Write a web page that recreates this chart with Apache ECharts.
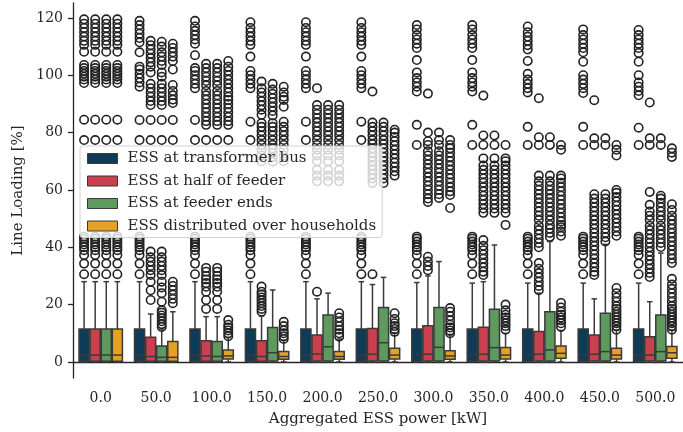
<!DOCTYPE html>
<html>
<head>
<meta charset="utf-8">
<script src="https://cdn.jsdelivr.net/npm/echarts@6/dist/echarts.min.js"></script>
<style>
  html, body { margin: 0; padding: 0; background: #fff; }
  #chart { width: 683px; height: 432px; }
</style>
</head>
<body>
<div id="chart"></div>
<script>
// categories on the x axis
const categories = ['0.0', '50.0', '100.0', '150.0', '200.0', '250.0', '300.0', '350.0', '400.0', '450.0', '500.0'];
const seriesNames = ['ESS at transformer bus', 'ESS at half of feeder', 'ESS at feeder ends', 'ESS distributed over households'];
const colors = ['#0e3b56', '#c9404f', '#5e9a5d', '#e5a126'];

// box stats per category: [low, q1, median, q3, high]
const busBox = [
  [0, 0.2, 2.4, 11.5, 28], [0, 0.2, 2.4, 11.5, 28], [0, 0.2, 2.4, 11.5, 28], [0, 0.2, 2.4, 11.5, 28],
  [0, 0.2, 2.4, 11.5, 28], [0, 0.2, 2.4, 11.5, 28], [0, 0.2, 2.4, 11.5, 27.7], [0, 0.2, 2.4, 11.5, 27.5],
  [0, 0.2, 2.4, 11.5, 27.5], [0, 0.2, 2.4, 11.5, 27.5], [0, 0.2, 2.4, 11.5, 27.5]
];
const halfBox = [
  [0, 0.2, 2.4, 11.5, 28], [0, 0.2, 1.9, 8.6, 16.7], [0, 0.2, 2.1, 7.4, 15.8], [0, 0.2, 1.9, 7.4, 16],
  [0, 0.3, 2.8, 9.4, 22], [0, 0.3, 2.7, 11.7, 27], [0, 0.3, 2.7, 12.6, 30], [0, 0.3, 2.7, 12.1, 28],
  [0, 0.3, 2.7, 10.6, 24], [0, 0.3, 2.7, 9.4, 22], [0, 0.3, 2.4, 8.8, 21]
];
const endsBox = [
  [0, 0.2, 2.4, 11.5, 28], [0, 0.2, 1.6, 5.6, 11.5], [0, 0.2, 1.9, 7.1, 15.8], [0, 0.3, 3.2, 12, 25.1],
  [0, 0.3, 5.3, 16.4, 24], [0, 0.3, 6.7, 19, 29.5], [0, 0.3, 5.1, 19, 35], [0, 0.3, 5, 18.4, 40.8],
  [0, 0.3, 4.2, 17.5, 42], [0, 0.3, 3.6, 17, 41], [0, 0.3, 3.6, 16.4, 38]
];
const distBox = [
  [0, 0.2, 2.4, 11.5, 28], [0, 0.2, 1.6, 7.1, 17.5], [0, 1, 2.1, 4.2, 8.5], [0, 0.9, 1.9, 3.6, 7.5],
  [0, 0.9, 1.9, 3.6, 8], [0, 1, 2.4, 4.8, 10], [0, 0.9, 2.1, 3.9, 9.4], [0, 1, 2.4, 5, 10],
  [0, 1.3, 3, 5.6, 11], [0, 1, 2.4, 4.8, 11], [0, 1.3, 3.2, 5.4, 11]
];

// outliers (fliers) per category
const busLow = [30.6, 34.3, 37.3, 39, 40, 41, 42, 43, 43.7];
const busOut = [
  busLow.concat([77.4, 84.5, 97.3, 98.5, 99.5, 100.5, 101.5, 102.5, 103.6, 108.2, 110.6, 112, 113.5, 115, 116.5, 118, 119.5]),
  busLow.concat([77.4, 84.4, 96, 97.5, 99, 100.5, 102, 103, 108, 111.5, 113, 114.5, 116, 117.5, 119]),
  busLow.concat([77.4, 84.4, 95.5, 97, 98.5, 100, 101.5, 102.5, 107, 111, 112.5, 114, 115.5, 117, 119]),
  busLow.concat([77.4, 83.8, 95.5, 97, 98.5, 100, 101.5, 106.5, 110.6, 112, 113.5, 115, 116.5, 118.5]),
  busLow.concat([77.4, 83.8, 95.5, 97, 98.5, 100, 101.5, 106.5, 110.6, 112, 113.5, 115, 116.5, 118.5]),
  busLow.concat([77.4, 83.8, 95.5, 97, 98.5, 100, 101.5, 106.5, 110.6, 112, 113.5, 115, 116.5, 118.5]),
  busLow.concat([75.7, 82.7, 94.3, 96, 97.5, 99, 101, 105.3, 109.5, 111, 112.5, 114, 116, 117.5]),
  busLow.concat([75.7, 82.7, 94.3, 96, 97.5, 99, 101, 105.3, 109.5, 111, 112.5, 114, 116, 117.5]),
  busLow.concat([75.7, 82, 94, 95.5, 97, 98.5, 100.5, 105, 109, 110.5, 112, 113.5, 115, 117]),
  busLow.concat([75.7, 82, 93.8, 95.5, 97, 98.5, 100, 104.7, 108, 109.5, 111, 112.5, 114, 116]),
  busLow.concat([75.7, 81.7, 93, 94.5, 96, 97.5, 100, 104.7, 107.8, 109.5, 111, 112.5, 114, 115.8])
];
const halfOut = [
  busOut[0],
  [21.6, 25, 28, 30.3, 32, 33.5, 35, 36.5, 38.5, 77.4, 84.4, 89.6, 91, 92.5, 94, 95.5, 97, 101, 103, 104.5, 106, 107.5, 109, 110.5, 112],
  [18.5, 21.6, 24.5, 26.2, 27.5, 28.8, 30, 31.5, 32.8, 77.4, 82.7, 84, 85.5, 87, 88.5, 90, 91.5, 93, 94.5, 96.5, 98, 99.5, 101, 102.5, 104],
  [17.5, 18.5, 19.5, 20.5, 21.5, 22.5, 23.5, 24.5, 26.3, 70, 72, 74, 75.7, 77.4, 79, 80.5, 82, 83.3, 86.2, 88, 89.5, 91, 92.5, 94, 95.5, 97.8],
  [24.5, 63, 65, 67, 70, 72, 74, 75.7, 77.4, 79, 80.5, 82, 83.5, 85, 86.5, 88, 89.6, 95.5],
  [30.6, 62.4, 64, 65.5, 67, 68.5, 70, 71.5, 73, 74.5, 76, 77.4, 79, 80.5, 82, 83.5, 94.3],
  [32, 33.5, 35, 36.7, 55.8, 57, 58.5, 60, 61.5, 63, 64.5, 66, 67.5, 69, 70.5, 72, 73.5, 75.7, 77, 80, 93.6],
  [30.3, 31.5, 33, 34.5, 36, 37.5, 39, 40.5, 42.5, 52, 53.5, 55, 56.5, 58, 59.5, 61, 62.5, 64, 65.5, 67, 68.5, 71, 75.7, 79, 92.9],
  [25, 26.5, 28, 29.5, 31, 32.5, 34.5, 40, 41.5, 43, 44.5, 46, 47.5, 49.5, 51, 52.5, 54, 55.5, 57, 58.5, 60, 61.5, 63, 65, 75.7, 78.4, 92],
  [30.3, 31.5, 33, 34.5, 36, 37.5, 39, 40.5, 42, 43.5, 45, 46.5, 48, 49.5, 51, 52.5, 54, 55.5, 57, 58.5, 75.7, 78, 91.3],
  [29.6, 31, 32.5, 34, 35.5, 37, 38.5, 40, 41.5, 43, 44.5, 46, 47.5, 49.5, 51, 52.5, 54.8, 59.3, 75.7, 78, 90.5]
];
const endsOut = [
  busOut[0],
  [12.2, 13.2, 14.2, 15.2, 16.2, 17.2, 18, 21, 24, 26, 28, 30.3, 32, 33.5, 35, 36.5, 38.5, 77.4, 84.4, 89.6, 91, 92.5, 94, 95.5, 97, 99.5, 101, 103.6, 105, 106.5, 108, 110, 111.7],
  [18.5, 21.6, 24.5, 26.2, 27.5, 28.8, 30, 31.5, 32.8, 77.4, 82.7, 84, 85.5, 87, 88.5, 90, 91.5, 93, 94.5, 96.5, 98, 99.5, 101, 102.5, 104],
  [69.8, 71.5, 73, 74.5, 75.7, 77.4, 79, 80.5, 82, 83.3, 86, 87.5, 89, 90.5, 92, 93.5, 95, 97],
  [63, 65, 67, 70, 72, 74, 75.7, 77.4, 79, 80.5, 82, 83.5, 85, 86.5, 88, 89.6],
  [62.4, 64, 65.5, 67, 68.5, 70, 71.5, 73, 74.5, 76, 77.4, 79, 80.5, 82, 83.5],
  [57.2, 58.5, 60, 61.5, 63, 64.5, 66, 67.5, 69, 70.5, 72, 73.5, 75.7, 77.4, 80],
  [52, 53.5, 55, 56.5, 58, 59.5, 61, 62.5, 64, 65.5, 67, 68.5, 71, 75.7, 79],
  [43.6, 45, 46.5, 47.8, 49.5, 51, 52.5, 54, 55.5, 57, 58.5, 60, 61.5, 63, 65, 75.7, 78.4],
  [42, 43.5, 45, 46.5, 48, 49.5, 51, 52.5, 54, 55.5, 57, 58.5, 75.7, 78],
  [40.1, 41.5, 43, 44.5, 46, 47.5, 49.5, 51, 52.5, 54, 55.5, 57, 58, 75.7, 78]
];
const distOut = [
  busOut[0],
  [20.5, 22, 23.5, 25, 26.5, 28, 77.4, 84.4, 90.3, 91.5, 93, 94.5, 96.6, 102, 105, 106.5, 108, 109.5, 111],
  [9, 10, 11, 12, 13, 14.6, 77.4, 82.7, 84, 85.5, 87, 88.5, 90, 91.4, 92.5, 94, 95.5, 97, 98.5, 100, 101.5, 103, 105],
  [8, 9, 10, 11, 12.5, 14, 70, 72, 74, 75.7, 77.4, 79, 80.5, 82, 83.8, 89, 91.4, 92.5, 94, 96],
  [8.8, 10, 11.2, 12.5, 14, 15.5, 17, 63, 65, 67, 70, 72, 74, 75.7, 77.4, 79, 80.5, 82, 83.5, 85, 86.5, 88, 89.6],
  [10.5, 11.5, 12.5, 13.5, 15, 17, 65, 66.5, 68, 69.5, 71, 72.5, 74, 75.5, 77, 78.5, 80, 81],
  [10, 11, 12, 13, 14.5, 16, 17.5, 18.8, 53.7, 58.2, 59.5, 61, 62.5, 64, 65.5, 67, 68.5, 70, 71.5, 73, 74.5, 75.7, 77.4],
  [11.2, 12.5, 13.5, 14.5, 15.5, 16.5, 18, 20, 47.8, 52, 53.5, 55, 56.5, 58, 59.5, 61, 62.5, 64, 65.5, 67, 68.5, 70, 71, 75.7],
  [12.2, 13.5, 14.5, 15.5, 16.5, 17.5, 19, 20.6, 44, 45.5, 47, 47.8, 49, 50.5, 52, 53.5, 55, 56.5, 58, 59.5, 61, 62.5, 64, 65, 74, 75.7],
  [11.2, 12.5, 13.5, 14.5, 15.5, 16.5, 17.5, 18.5, 19.5, 21, 22.5, 24, 25.8, 44, 45.5, 47, 48.5, 50, 51.5, 53, 54.5, 56, 57.5, 59, 60, 72, 74, 75.7],
  [11.2, 12.5, 13.5, 14.5, 15.5, 16.5, 17.5, 18.5, 19.5, 21, 22.5, 24, 25.5, 27, 29, 34.5, 36, 37.5, 39, 40.5, 42, 43.5, 45, 46.5, 48, 49.5, 51, 53, 55, 71.5, 73, 74.5]
];
const yTicks = [0, 20, 40, 60, 80, 100, 120];

const boxSets = [busBox, halfBox, endsBox, distBox];
const outSets = [busOut, halfOut, endsOut, distOut];
const offsets = [-0.3, -0.1, 0.1, 0.3];
const edge = '#3a3a3a';
const font = 'DejaVu Serif';

function boxRenderer(k) {
  return function (params, api) {
    const idx = api.value(0);
    const band = api.size([1, 0])[0];
    const w = band * 0.2;
    const cx = api.coord([idx, 0])[0] + offsets[k] * band;
    const yLow = api.coord([idx, api.value(1)])[1];
    const yQ1 = api.coord([idx, api.value(2)])[1];
    const yMed = api.coord([idx, api.value(3)])[1];
    const yQ3 = api.coord([idx, api.value(4)])[1];
    const yHigh = api.coord([idx, api.value(5)])[1];
    const line = { stroke: edge, lineWidth: 1.5 };
    const cap = w * 0.25;
    return {
      type: 'group',
      children: [
        { type: 'line', shape: { x1: cx, y1: yQ3, x2: cx, y2: yHigh }, style: line },
        { type: 'line', shape: { x1: cx, y1: yQ1, x2: cx, y2: yLow }, style: line },
        { type: 'line', shape: { x1: cx - cap, y1: yHigh, x2: cx + cap, y2: yHigh }, style: line },
        { type: 'line', shape: { x1: cx - cap, y1: yLow, x2: cx + cap, y2: yLow }, style: line },
        {
          type: 'rect',
          shape: { x: cx - w / 2 + 0.5, y: yQ3, width: w - 1, height: yQ1 - yQ3 },
          style: { fill: colors[k], stroke: edge, lineWidth: 1.5 }
        },
        { type: 'line', shape: { x1: cx - w / 2 + 0.5, y1: yMed, x2: cx + w / 2 - 0.5, y2: yMed }, style: line }
      ]
    };
  };
}

function flierRenderer(k) {
  return function (params, api) {
    const idx = api.value(0);
    const band = api.size([1, 0])[0];
    const p = api.coord([idx, api.value(1)]);
    return {
      type: 'circle',
      shape: { cx: p[0] + offsets[k] * band, cy: p[1], r: 4.2 },
      style: { fill: 'none', stroke: '#222', lineWidth: 1.6 }
    };
  };
}

const series = [];
boxSets.forEach(function (set, k) {
  series.push({
    name: seriesNames[k],
    type: 'custom',
    renderItem: boxRenderer(k),
    itemStyle: { color: colors[k] },
    encode: { x: 0, y: [1, 2, 3, 4, 5] },
    data: set.map(function (b, i) { return [i].concat(b); }),
    z: 2
  });
});
outSets.forEach(function (set, k) {
  const pts = [];
  set.forEach(function (vals, i) {
    vals.forEach(function (v) { pts.push([i, v]); });
  });
  series.push({
    name: seriesNames[k] + ' fliers',
    type: 'custom',
    renderItem: flierRenderer(k),
    encode: { x: 0, y: 1 },
    data: pts,
    z: 3
  });
});

const chart = echarts.init(document.getElementById('chart'));
chart.setOption({
  animation: false,
  backgroundColor: '#fff',
  textStyle: { fontFamily: font },
  grid: { left: 73, right: 0, top: 3, bottom: 54 },
  legend: {
    orient: 'vertical',
    left: 80,
    top: 146,
    itemWidth: 30,
    itemHeight: 10,
    itemGap: 7.5,
    padding: [5, 6, 4, 7],
    backgroundColor: 'rgba(255,255,255,0.8)',
    borderColor: '#d0d0d0',
    borderWidth: 1,
    borderRadius: 3,
    selectedMode: false,
    textStyle: { fontFamily: font, fontSize: 15, color: '#262626', padding: [0, 0, 0, 5] },
    data: seriesNames.map(function (n, k) {
      return { name: n, icon: 'rect', itemStyle: { color: colors[k], borderColor: edge, borderWidth: 1 } };
    })
  },
  xAxis: {
    type: 'category',
    data: categories,
    name: 'Aggregated ESS power [kW]',
    nameLocation: 'middle',
    nameGap: 34,
    nameTextStyle: { fontFamily: font, fontSize: 15, color: '#262626' },
    axisLine: { lineStyle: { color: '#262626', width: 1.3 } },
    axisTick: { alignWithLabel: true, length: 5, lineStyle: { color: '#262626', width: 1.3 } },
    axisLabel: { fontFamily: font, fontSize: 14, color: '#262626', margin: 13, interval: 0, hideOverlap: false },
    splitLine: { show: false }
  },
  yAxis: {
    type: 'value',
    min: -5.6,
    max: 125.2,
    name: 'Line Loading [%]',
    nameLocation: 'middle',
    nameGap: 45,
    nameTextStyle: { fontFamily: font, fontSize: 15, color: '#262626' },
    axisLine: { show: true, lineStyle: { color: '#262626', width: 1.3 } },
    axisTick: { show: true, length: 5, customValues: yTicks, lineStyle: { color: '#262626', width: 1.3 } },
    axisLabel: { fontFamily: font, fontSize: 14, color: '#262626', margin: 10, customValues: yTicks },
    splitLine: { show: false }
  },
  series: series
});
</script>
</body>
</html>
